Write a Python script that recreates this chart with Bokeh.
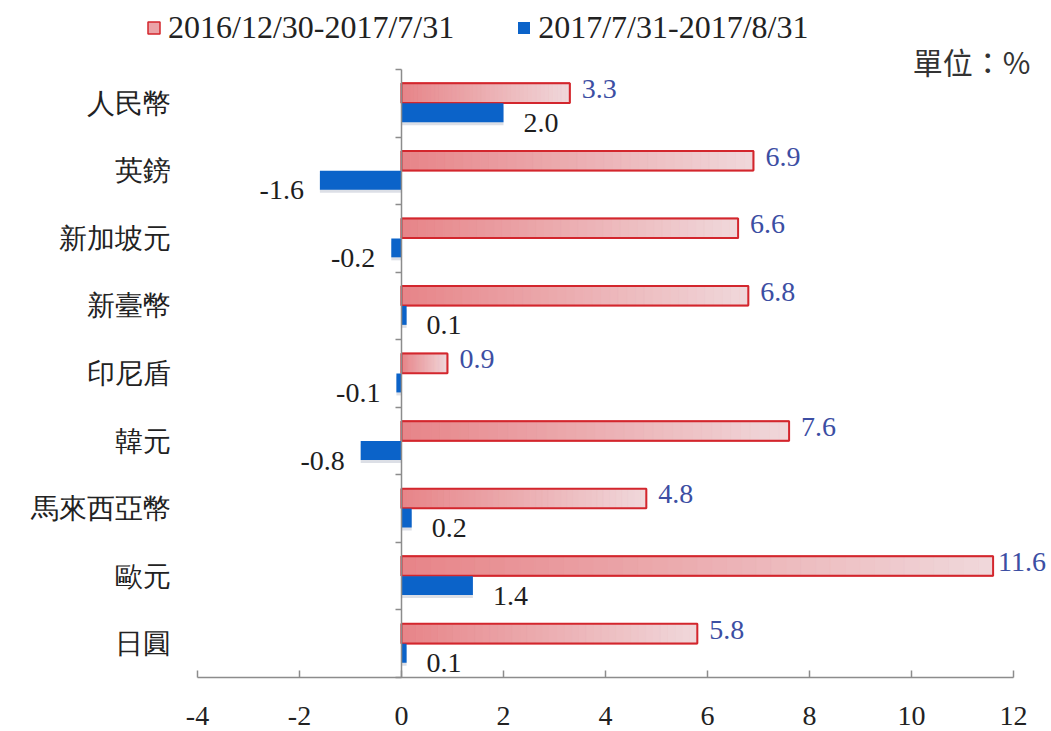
from bokeh.plotting import figure
from bokeh.models import (ColumnDataSource, LabelSet, Label, Legend, LegendItem,
                          LinearAxis, FixedTicker, Range1d, CustomLabelingPolicy)
from bokeh.embed import file_html
from bokeh.resources import INLINE

# ---------------- data ----------------
categories = ["人民幣", "英鎊", "新加坡元", "新臺幣", "印尼盾", "韓元", "馬來西亞幣", "歐元", "日圓"]
ytd_change = [3.3, 6.9, 6.6, 6.8, 0.9, 7.6, 4.8, 11.6, 5.8]      # 2016/12/30-2017/7/31
aug_change = [2.0, -1.6, -0.2, 0.1, -0.1, -0.8, 0.2, 1.4, 0.1]   # 2017/7/31-2017/8/31
x_ticks = [-4, -2, 0, 2, 4, 6, 8, 10, 12]
series_names = ["2016/12/30-2017/7/31", "2017/7/31-2017/8/31"]
unit_text = "單位：%"

# ---------------- style / layout ----------------
RED_LINE = "#d3262d"
RED_DARK = (231, 132, 136)
RED_LIGHT = (240, 216, 219)
BLUE = "#0b63c9"
VAL_RED_TXT = "#3c4ea3"
VAL_BLUE_TXT = "#1e1e1e"
AXIS_COL = "#8c8c8c"
SERIF = "Liberation Serif"
CJK = "Noto Sans CJK TC"

W, H = 1050, 730
BL, BB = 8, 2                      # side panels (zero axis / x axis)
FR_L, FR_R, FR_T, FR_B = BL, W, 0, H - BB   # frame in page px
PX_XMIN, PX_XMAX = 197, 1013       # page px of first/last x tick
PX_YTOP, PX_YBOT = 69, 677         # page px of category band top / bottom

n = len(categories)
ux = (PX_XMAX - PX_XMIN) / (x_ticks[-1] - x_ticks[0])
uy = (PX_YBOT - PX_YTOP) / n
x0 = x_ticks[0] - (PX_XMIN - FR_L) / ux
x1 = x_ticks[-1] + (FR_R - PX_XMAX) / ux
y0 = -0.5 - (FR_B - PX_YBOT) / uy
y1 = -0.5 + (PX_YBOT - FR_T) / uy
px_zero = PX_XMIN - x_ticks[0] * ux

pos = [n - 1 - i for i in range(n)]
red_y = [p_ + 0.15 for p_ in pos]
blue_y = [p_ - 0.14 for p_ in pos]

p = figure(width=W, height=H, output_backend="svg", toolbar_location=None,
           x_range=Range1d(x0, x1), y_range=Range1d(y0, y1),
           x_axis_location=None, y_axis_location=None,
           min_border_left=BL, min_border_right=0, min_border_top=0, min_border_bottom=BB)
p.outline_line_color = None
p.xgrid.visible = False
p.ygrid.visible = False
p.background_fill_color = "white"
p.border_fill_color = "white"

# base red bars (also used as legend swatch)
red_base = p.hbar(y=red_y, left=0, right=ytd_change, height=0.29, fill_color="#eba3a7",
                  line_color=RED_LINE, line_width=1.5)

# gradient fill (bars split along their length)
N = 40
seg = dict(y=[], left=[], right=[], color=[])
for v, yc in zip(ytd_change, red_y):
    for k in range(N):
        t = (k + 0.5) / N
        c = tuple(int(round(a + (b - a) * t)) for a, b in zip(RED_DARK, RED_LIGHT))
        seg["y"].append(yc)
        seg["left"].append(v * k / N)
        seg["right"].append(v * (k + 1) / N)
        seg["color"].append("#%02x%02x%02x" % c)
p.hbar(y="y", left="left", right="right", height=0.29, fill_color="color",
       line_color="color", line_width=0.6, source=ColumnDataSource(seg))
p.hbar(y=red_y, left=0, right=ytd_change, height=0.29, fill_alpha=0,
       line_color=RED_LINE, line_width=2)

# soft shadow under the blue bars
shadow_dy = 3 / uy
p.hbar(y=[b - shadow_dy for b in blue_y], left=0, right=aug_change, height=0.28,
       fill_color="#9aa4b8", fill_alpha=0.35, line_color=None)
# blue bars
blue_bars = p.hbar(y=blue_y, left=0, right=aug_change, height=0.28, fill_color=BLUE, line_color=None)

legend = Legend(items=[LegendItem(label=series_names[0], renderers=[red_base]),
                       LegendItem(label=series_names[1], renderers=[blue_bars])],
                orientation="horizontal", location=(146 - FR_L, FR_B - 46),
                label_text_font=SERIF, label_text_font_size="32px", label_text_color="#222222",
                glyph_width=15, glyph_height=15, label_standoff=7, spacing=62,
                padding=0, margin=0, border_line_alpha=0, background_fill_alpha=0)
p.add_layout(legend)

# value labels for red bars (pull in a label that would run off the right edge)
red_off = [12 if px_zero + v * ux + 12 + 50 < W else 5 for v in ytd_change]
red_src = ColumnDataSource(dict(x=ytd_change, y=red_y, t=["%.1f" % v for v in ytd_change],
                                xo=red_off))
p.add_layout(LabelSet(x="x", y="y", text="t", source=red_src, x_offset="xo", y_offset=4,
                      text_font=SERIF, text_font_size="28px", text_color=VAL_RED_TXT,
                      text_baseline="middle", text_align="left"))
pos_b = [i for i, v in enumerate(aug_change) if v >= 0]
neg_b = [i for i, v in enumerate(aug_change) if v < 0]
bp_src = ColumnDataSource(dict(x=[aug_change[i] for i in pos_b], y=[blue_y[i] for i in pos_b],
                               t=["%.1f" % aug_change[i] for i in pos_b]))
bn_src = ColumnDataSource(dict(x=[aug_change[i] for i in neg_b], y=[blue_y[i] for i in neg_b],
                               t=["%.1f" % aug_change[i] for i in neg_b]))
p.add_layout(LabelSet(x="x", y="y", text="t", source=bp_src, x_offset=20, y_offset=-10,
                      text_font=SERIF, text_font_size="28px", text_color=VAL_BLUE_TXT,
                      text_baseline="middle", text_align="left"))
p.add_layout(LabelSet(x="x", y="y", text="t", source=bn_src, x_offset=-16, y_offset=-10,
                      text_font=SERIF, text_font_size="28px", text_color=VAL_BLUE_TXT,
                      text_baseline="middle", text_align="right"))

# category labels (left of the -4 position)
cat_src = ColumnDataSource(dict(x=[x_ticks[0]] * n, y=pos, t=categories))
p.add_layout(LabelSet(x="x", y="y", text="t", source=cat_src, x_offset=-27,
                      text_font=CJK, text_font_size="28px", text_color="#222222",
                      text_baseline="middle", text_align="right"))

# x tick labels
xt_src = ColumnDataSource(dict(x=x_ticks, y=[-0.5] * len(x_ticks), t=[str(t) for t in x_ticks]))
p.add_layout(LabelSet(x="x", y="y", text="t", source=xt_src, y_offset=-38,
                      text_font=SERIF, text_font_size="28px", text_color="#222222",
                      text_baseline="middle", text_align="center"))

# unit label
p.add_layout(Label(x=x_ticks[-1], y=n - 0.5, x_offset=17, y_offset=9, text=unit_text,
                   text_font=CJK, text_font_size="30px", text_color="#333333",
                   text_align="right", text_baseline="middle"))

# labeling policy that suppresses an axis' own labels
HIDE_JS = """
try {
  const all = Array.from(indices.ones());
  for (const i of all) indices.unset(i);
} catch (e) {}
return indices;
"""

# x axis line with upward ticks
x_axis = LinearAxis(fixed_location=-0.5, bounds=(x_ticks[0], x_ticks[-1]),
                    ticker=FixedTicker(ticks=x_ticks),
                    major_label_policy=CustomLabelingPolicy(code=HIDE_JS),
                    major_label_text_font_size="0px", major_label_standoff=0,
                    major_tick_in=7, major_tick_out=0, minor_tick_line_color=None,
                    axis_line_color=AXIS_COL, axis_line_width=1.5,
                    major_tick_line_color=AXIS_COL, major_tick_line_width=1.5)
p.add_layout(x_axis, "below")

# zero axis with ticks at category boundaries
zero_axis = LinearAxis(fixed_location=0, bounds=(-0.5, n - 0.5),
                       ticker=FixedTicker(ticks=[k + 0.5 for k in range(-1, n)]),
                       major_label_policy=CustomLabelingPolicy(code=HIDE_JS),
                       major_label_text_font_size="0px", major_label_standoff=0,
                       major_tick_out=6, major_tick_in=0, minor_tick_line_color=None,
                       axis_line_color=AXIS_COL, axis_line_width=1.5,
                       major_tick_line_color=AXIS_COL, major_tick_line_width=1.5)
p.add_layout(zero_axis, "left")

open("out.html", "w").write(file_html(p, INLINE))
